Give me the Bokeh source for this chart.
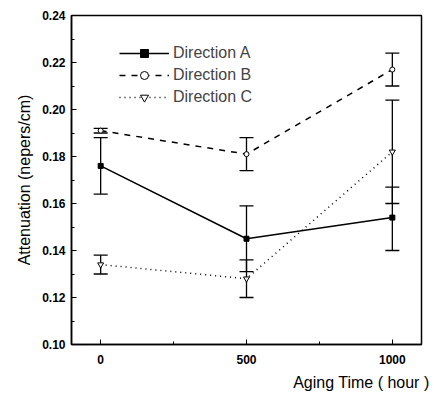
from bokeh.plotting import figure
from bokeh.models import (ColumnDataSource, Whisker, TeeHead, Legend, LegendItem,
                          SingleIntervalTicker, FixedTicker, Title, Range1d, PrintfTickFormatter)
from bokeh.embed import file_html
from bokeh.resources import INLINE

hours = [0, 500, 1000]
dir_a = [0.176, 0.145, 0.154]
dir_a_lo = [0.164, 0.131, 0.140]
dir_a_hi = [0.188, 0.159, 0.167]
dir_b = [0.191, 0.181, 0.217]
dir_b_lo = [0.190, 0.174, 0.210]
dir_b_hi = [0.192, 0.188, 0.224]
dir_c = [0.134, 0.128, 0.182]
dir_c_lo = [0.130, 0.120, 0.160]
dir_c_hi = [0.138, 0.136, 0.204]
y_ticks = [0.10, 0.12, 0.14, 0.16, 0.18, 0.20, 0.22, 0.24]
x_ticks = [0, 500, 1000]

FONT = "Liberation Sans"

p = figure(width=434, height=395, output_backend="svg", toolbar_location=None,
           x_range=Range1d(-100, 1100), y_range=Range1d(0.10, 0.24),
           min_border_left=71, min_border_right=13, min_border_top=15, min_border_bottom=10)
p.grid.visible = False
p.outline_line_color = "black"
p.outline_line_width = 1.5

styles = [
    ("Direction A", dir_a, dir_a_lo, dir_a_hi, "solid", "square", "black", 5),
    ("Direction B", dir_b, dir_b_lo, dir_b_hi, "dashed", "circle", "white", 5),
    ("Direction C", dir_c, dir_c_lo, dir_c_hi, "1 4", "inverted_triangle", "white", 6),
]
items = []
for name, vals, lo, hi, dash, marker, fill, size in styles:
    src = ColumnDataSource(dict(x=hours, y=vals, lo=lo, hi=hi))
    ln = p.line("x", "y", source=src, line_color="black", line_width=1.5, line_dash=dash)
    sc = p.scatter("x", "y", source=src, marker=marker, size=size, line_color="black",
                   fill_color=fill, line_width=1)
    w = Whisker(base="x", lower="lo", upper="hi", source=src, line_color="black", line_width=1.3,
                upper_head=TeeHead(size=14, line_color="black", line_width=1.3),
                lower_head=TeeHead(size=14, line_color="black", line_width=1.3))
    p.add_layout(w)
    items.append(LegendItem(label=name, renderers=[ln, sc]))

legend = Legend(items=items, background_fill_alpha=0, border_line_alpha=0,
                label_text_font=FONT, label_text_font_size="16px", glyph_width=50,
                label_height=20, glyph_height=20, spacing=2, margin=0, padding=0,
                location=(48, 237), label_standoff=4)
p.add_layout(legend)

p.yaxis.ticker = SingleIntervalTicker(interval=0.02, num_minor_ticks=2)
p.yaxis.formatter = PrintfTickFormatter(format="%.2f")
p.xaxis.ticker = FixedTicker(ticks=x_ticks, minor_ticks=[250, 750])
for ax in (p.xaxis, p.yaxis):
    ax.major_tick_in = 5
    ax.major_tick_out = 0
    ax.minor_tick_in = 3
    ax.minor_tick_out = 0
    ax.axis_line_color = "black"
    ax.axis_line_width = 1.5
    ax.major_label_text_font = FONT
    ax.major_label_text_font_style = "bold"
    ax.major_label_text_font_size = "12px"
    ax.major_label_text_color = "black"
p.xaxis.major_label_standoff = 10
p.yaxis.major_label_standoff = 6
p.yaxis.axis_label = "Attenuation (nepers/cm)"
p.yaxis.axis_label_text_font = FONT
p.yaxis.axis_label_text_font_style = "normal"
p.yaxis.axis_label_text_font_size = "16px"
p.yaxis.axis_label_text_color = "black"
p.yaxis.axis_label_standoff = 6

t = Title(text="Aging Time ( hour )", align="right", text_font=FONT, text_font_style="normal",
          text_font_size="16px", offset=-8, text_color="black")
p.add_layout(t, "below")

open("out.html", "w").write(file_html(p, INLINE))
